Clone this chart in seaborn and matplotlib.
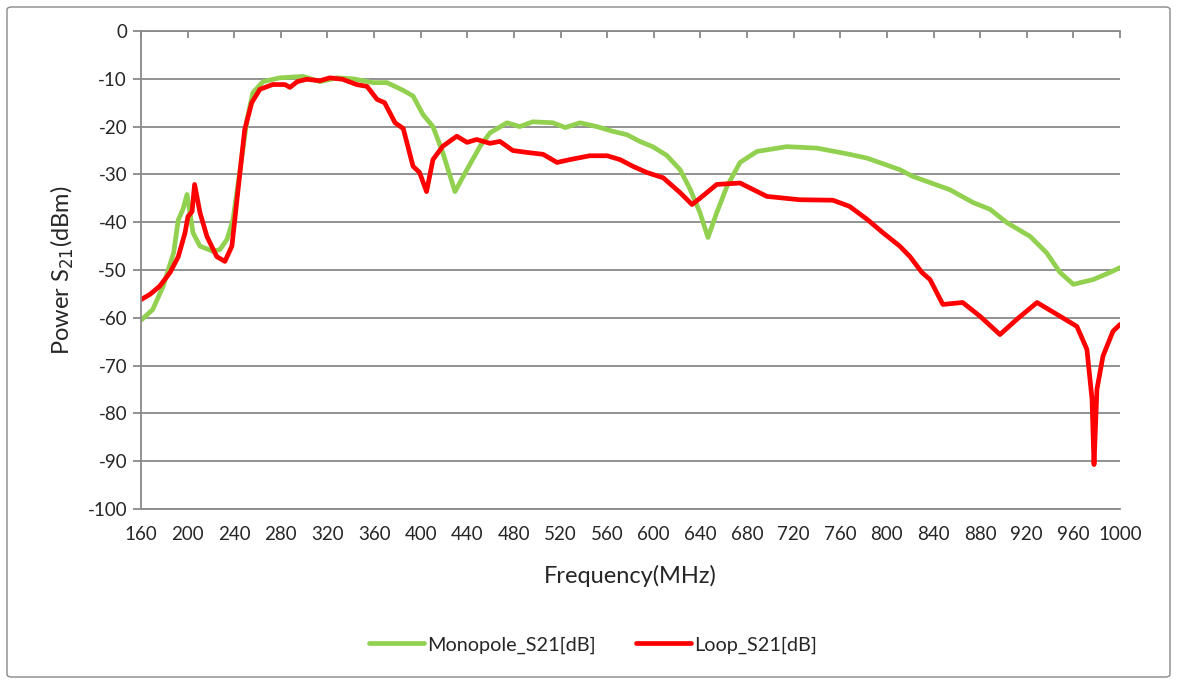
import numpy as np
import pandas as pd
import matplotlib
matplotlib.use("Agg")
import matplotlib.pyplot as plt
from matplotlib.patches import FancyBboxPatch
import seaborn as sns

# ---- data ----
mono_freq = [160, 170, 179, 188, 192, 196, 199.5, 202, 204.6, 210.6, 221.8, 227.8, 233.8, 239,
             245, 251, 256, 264.7, 279, 299, 313.6, 328, 342, 359, 371, 384.8, 393.4, 402,
             410.5, 419, 429.4, 439.7, 451, 459.5, 474, 485, 496, 513.5, 524, 536.7, 551,
             565, 577, 588, 599, 611, 622.5, 631, 639.6, 646.5, 654, 662.8, 674, 688.5, 714,
             740, 768, 783, 811, 822, 854, 874, 888.5, 903, 923, 937, 948.5, 960, 977, 991.5, 1000]
mono_db = [-60.5, -58.3, -53.4, -46.4, -39.5, -37.3, -34.2, -38, -42.2, -45, -46.1, -45.7, -43.6, -39.4,
           -29, -18.5, -12.9, -10.6, -9.8, -9.5, -10.6, -9.8, -10, -10.8, -10.8, -12.4, -13.6, -17.5,
           -20, -25.5, -33.6, -29, -24.1, -21.3, -19.2, -20, -19, -19.2, -20.2, -19.2, -20,
           -21, -21.7, -23.1, -24.2, -26, -29, -33, -38, -43.2, -38, -32.5, -27.5, -25.2, -24.2,
           -24.5, -25.8, -26.6, -29, -30.4, -33.2, -35.9, -37.3, -40.1, -43, -46.4, -50.5, -53, -52, -50.5, -49.5]

loop_freq = [160, 167.7, 176, 185, 192, 197.8, 200.3, 203.8, 206, 210.6, 216.6, 225, 232, 238,
             243, 249, 255, 262, 273, 283.5, 287.8, 294, 302, 313.6, 322, 333, 345, 354, 362.5,
             369, 378, 385, 393.4, 399, 405, 410.5, 419, 431, 439.7, 448, 459.5, 468, 479, 491,
             505, 517, 528, 545, 560, 571, 582, 594, 608, 622.5, 632.8, 639.6, 654, 674, 697,
             725, 753.7, 768, 783, 796.6, 811, 819.8, 830, 837, 848, 865, 880, 897, 911.6, 928.8,
             946, 963, 971.6, 976, 977.7, 980.2, 985.4, 994, 1000]
loop_db = [-56.2, -55.1, -53.4, -50.5, -47.2, -42.2, -38.8, -37.8, -32.1, -38, -43, -47.2, -48.2, -45,
           -33.8, -20.6, -15, -12.2, -11.2, -11.2, -11.8, -10.6, -10.1, -10.4, -9.8, -10.1, -11.2, -11.6, -14.3,
           -15, -19.2, -20.4, -28.3, -29.6, -33.6, -26.9, -24.1, -22, -23.3, -22.7, -23.5, -23.1, -25, -25.4,
           -25.8, -27.5, -26.9, -26.1, -26.1, -26.9, -28.3, -29.6, -30.7, -33.8, -36.3, -35, -32.1, -31.8, -34.6,
           -35.3, -35.4, -36.7, -39.4, -42.2, -45, -47.2, -50.5, -52, -57.2, -56.8, -59.7, -63.5, -60.3, -56.8,
           -59.3, -61.8, -66.6, -77, -90.7, -75, -68, -62.8, -61.4]

series_names = ["Monopole_S21[dB]", "Loop_S21[dB]"]
colors = ["#92D050", "#FF0000"]
x_ticks = list(range(160, 1001, 40))
y_ticks = list(range(-100, 1, 10))

df = pd.concat([
    pd.DataFrame({"freq": mono_freq, "db": mono_db, "series": series_names[0]}),
    pd.DataFrame({"freq": loop_freq, "db": loop_db, "series": series_names[1]}),
], ignore_index=True)

sns.set_style("white")
plt.rcParams["font.family"] = ["Lato", "DejaVu Sans"]
plt.rcParams["axes.unicode_minus"] = False

fig = plt.figure(figsize=(11.79, 6.82), dpi=100)
ax = fig.add_axes([141/1179, 1 - 509/682, (1120-141)/1179, (509-31)/682])

sns.lineplot(data=df, x="freq", y="db", hue="series", palette=colors, sort=False,
             estimator=None, linewidth=3.4, ax=ax, legend=True)

ax.set_xlim(160, 1000)
ax.set_ylim(-100, 0)
ax.set_xticks(x_ticks)
ax.set_yticks(y_ticks)
ax.yaxis.grid(True, color="#898989", linewidth=1.3)
ax.xaxis.grid(False)
ax.set_axisbelow(True)
ax.spines["right"].set_visible(False)
for s in ["left", "top", "bottom"]:
    ax.spines[s].set_color("#898989")
    ax.spines[s].set_linewidth(1.3)
ax.tick_params(axis="x", bottom=False, top=True, direction="in", length=5, width=1.3,
               color="#898989", labelbottom=True, labeltop=False, labelsize=13.5, pad=12)
ax.tick_params(axis="y", left=True, direction="out", length=6, width=1.3,
               color="#898989", labelsize=13.5, pad=4)
ax.set_xlabel("Frequency(MHz)", fontsize=17, labelpad=16)
ax.set_ylabel("Power S$_{21}$(dBm)", fontsize=17, labelpad=8)

handles = ax.get_legend_handles_labels()[0]
ax.get_legend().remove()
leg = fig.legend(handles=handles, labels=series_names,
                 loc="center", bbox_to_anchor=(0.503, 1 - 645/682), ncol=2, frameon=False,
                 fontsize=14.3, handlelength=2.8, columnspacing=2.0, handletextpad=0.15)
for h in leg.get_lines():
    h.set_linewidth(3.4)

border = FancyBboxPatch((7/1179, 5/682), 1163/1179, 670/682,
                        boxstyle="round,pad=0,rounding_size=0.004",
                        transform=fig.transFigure, fill=False,
                        edgecolor="#898989", linewidth=1.0)
fig.patches.append(border)

fig.savefig("out.png", dpi=100)
